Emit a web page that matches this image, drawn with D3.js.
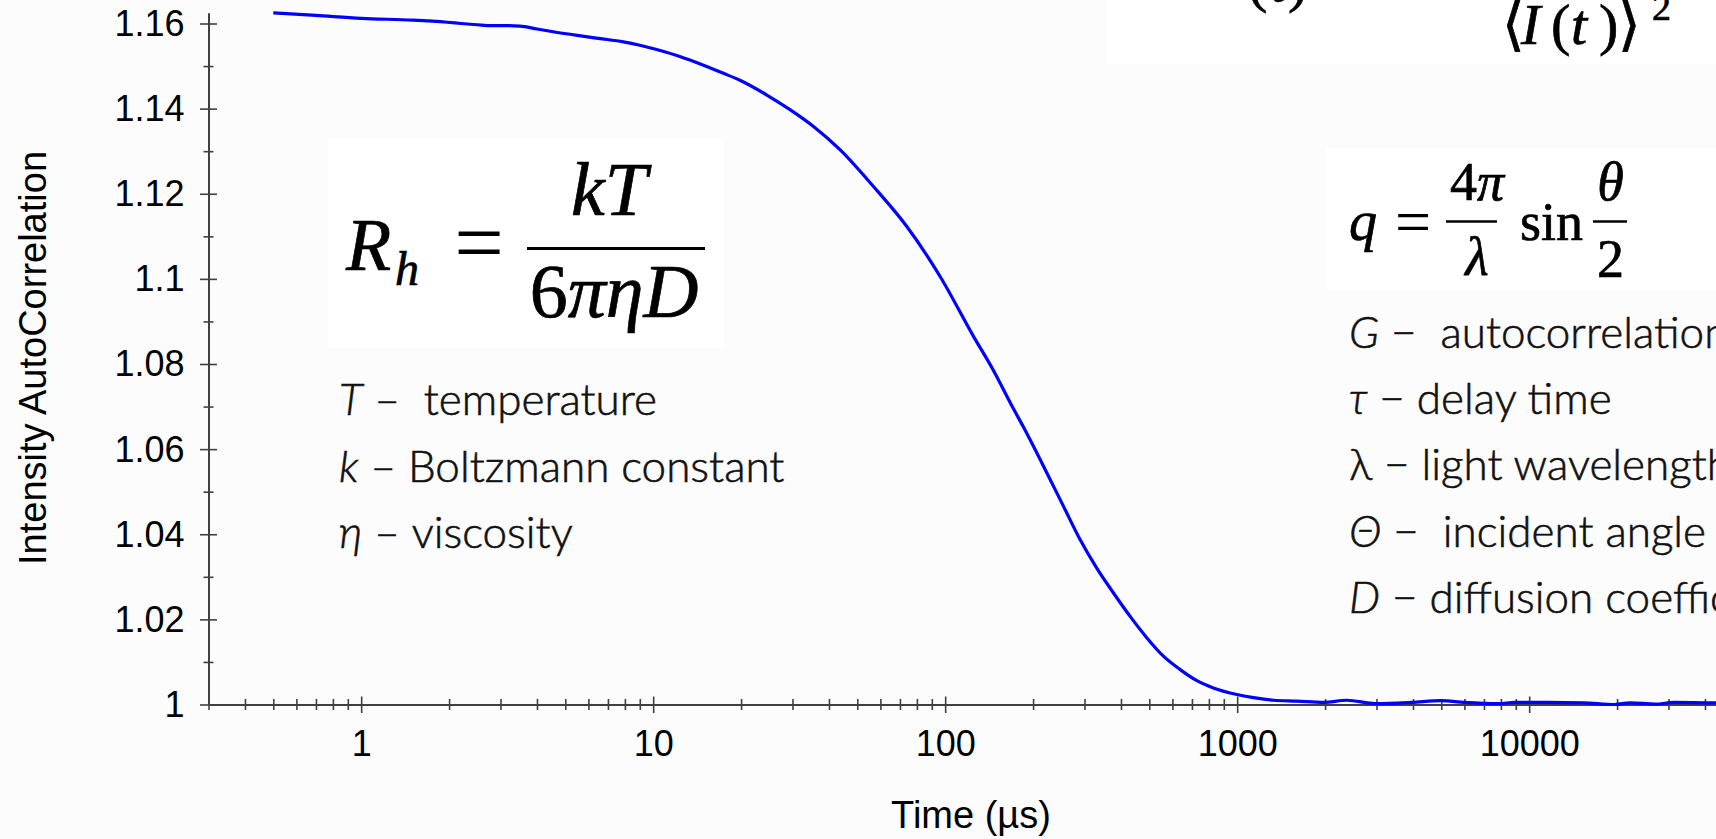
<!DOCTYPE html>
<html>
<head>
<meta charset="utf-8">
<script src="https://cdn.jsdelivr.net/npm/d3@7"></script>
<style>
  body { margin: 0; background: #fcfcfc; }
  svg { display: block; }
  .axis path, .axis line { stroke: #404040; }
  .axis text { font-family: 'Liberation Sans', Arial, sans-serif; font-size: 36px; fill: #000; }
  .title { font-family: 'Liberation Sans', Arial, sans-serif; font-size: 38px; fill: #000; }
  .note { font-family: Lato, 'Open Sans', sans-serif; font-size: 44px; font-weight: 300; fill: #111; stroke: #111; stroke-width: 0.6px; white-space: pre; }
  .math { font-family: 'Liberation Serif', 'DejaVu Serif', serif; fill: #000; stroke: #000; stroke-width: 0.7px; }
</style>
</head>
<body>
<div id="chart"></div>
<script>
// delay time (µs) and intensity autocorrelation
const timeUs = [0.5, 0.7, 1.0, 1.5, 1.97, 2.2, 2.5, 2.8, 3.1, 3.5, 4.0, 4.6, 5.5, 6.5, 7.9, 9.0,
    10.5, 12.4, 14.5, 17.4, 19.9, 24.5, 29.5, 35.4, 43.7, 56.8, 73.9, 96.2, 125, 146, 171, 185,
    223, 254, 290, 330, 377, 430, 490, 560, 638, 728, 829, 989, 1137, 1331, 1600, 1976, 2377,
    2970, 3965, 4980, 5985, 7850, 8930, 11530, 15320, 19550, 22180, 27100, 31260, 42640, 50000];
const autocorr = [1.1625, 1.1619, 1.1612, 1.1608, 1.1603, 1.16, 1.1597, 1.1595, 1.1595, 1.1594,
    1.1587, 1.158, 1.1572, 1.1565, 1.1557, 1.1549, 1.1537, 1.1522, 1.1505, 1.1483, 1.1466, 1.1432,
    1.1397, 1.1358, 1.1303, 1.1217, 1.1123, 1.1005, 1.0865, 1.0786, 1.0696, 1.0653, 1.0544, 1.0466,
    1.0387, 1.0321, 1.0262, 1.0207, 1.0157, 1.0113, 1.0082, 1.0056, 1.0039, 1.0024, 1.0016, 1.001,
    1.0008, 1.0005, 1.001, 1.0002, 1.0005, 1.0009, 1.0005, 1.0002, 1.0005, 1.0005, 1.0004, 1.0,
    1.0004, 1.0001, 1.0005, 1.0004, 1.0004];

const xMajorTicks = [1, 10, 100, 1000, 10000, 100000];
const xTickLabels = ['1', '10', '100', '1000', '10000', '100000'];
const yMajorTicks = [1, 1.02, 1.04, 1.06, 1.08, 1.1, 1.12, 1.14, 1.16];
const yTickLabels = ['1', '1.02', '1.04', '1.06', '1.08', '1.1', '1.12', '1.14', '1.16'];
const yMinorTicks = [1.01, 1.03, 1.05, 1.07, 1.09, 1.11, 1.13, 1.15];

const leftNotes = [
    { sym: 'T', italic: true, text: ' –  temperature' },
    { sym: 'k', italic: true, text: ' – Boltzmann constant' },
    { sym: 'η', italic: true, text: ' – viscosity' },
];
const rightNotes = [
    { sym: 'G', italic: true, text: ' −  autocorrelation' },
    { sym: 'τ', italic: true, text: ' − delay time' },
    { sym: 'λ', italic: false, text: ' − light wavelength' },
    { sym: 'Θ', italic: true, text: ' −  incident angle' },
    { sym: 'D', italic: true, text: ' − diffusion coefficient' },
];

const width = 1716;
const height = 839;
const x0 = 208.5;
const decade = 292;
const yBase = 704.5;
const yStep = 85.125; // px per 0.02

const svg = d3.select('#chart')
    .append('svg')
    .attr('width', width)
    .attr('height', height);

const x = d3.scaleLog()
    .domain([0.3, 100000])
    .range([x0, x0 + decade * Math.log10(100000 / 0.3)]);

const y = d3.scaleLinear()
    .domain([1, 1.1625])
    .range([yBase, yBase - (0.1625 / 0.02) * yStep]);

// minor log ticks 2..9 per decade
const xMinorTicks = [];
[0.1, 1, 10, 100, 1000, 10000].forEach((p) => {
    for (let m = 2; m <= 9; m++) {
        if (p * m >= 0.3) xMinorTicks.push(p * m);
    }
});

// formula boxes (slightly lighter than the page)
svg.append('rect').attr('x', 328).attr('y', 138).attr('width', 396).attr('height', 210).attr('fill', '#fff');
svg.append('rect').attr('x', 1326).attr('y', 148).attr('width', 390).attr('height', 142).attr('fill', '#fff');
svg.append('rect').attr('x', 1106).attr('y', 0).attr('width', 610).attr('height', 64).attr('fill', '#fff');

// x axis
const xAxis = svg.append('g')
    .attr('class', 'axis')
    .attr('transform', `translate(0,${yBase})`)
    .call(d3.axisBottom(x)
        .tickValues(xMajorTicks.concat(xMinorTicks))
        .tickSize(0)
        .tickSizeOuter(0)
        .tickFormat((d) => {
            const i = xMajorTicks.indexOf(d);
            return i >= 0 ? xTickLabels[i] : '';
        }));
xAxis.select('.domain').attr('stroke-width', 2);
xAxis.selectAll('.tick line')
    .attr('stroke-width', 1.6)
    .attr('y1', (d) => (xMajorTicks.includes(d) ? -8 : -5.5))
    .attr('y2', (d) => (xMajorTicks.includes(d) ? 8.5 : 5.5));
xAxis.selectAll('.tick text').attr('dy', null).attr('y', 51);

// y axis
const yAxis = svg.append('g')
    .attr('class', 'axis')
    .attr('transform', `translate(${x0},0)`)
    .call(d3.axisLeft(y)
        .tickValues(yMajorTicks.concat(yMinorTicks))
        .tickSize(0)
        .tickSizeOuter(0)
        .tickFormat((d) => {
            const i = yMajorTicks.indexOf(d);
            return i >= 0 ? yTickLabels[i] : '';
        }));
yAxis.select('.domain').attr('stroke-width', 2);
yAxis.selectAll('.tick line')
    .attr('stroke-width', 1.6)
    .attr('x1', (d) => (yMajorTicks.includes(d) ? -8.5 : -5))
    .attr('x2', (d) => (yMajorTicks.includes(d) ? 8.5 : 5));
yAxis.selectAll('.tick text').attr('x', -24).attr('dy', '0.33em');

// axis titles
svg.append('text')
    .attr('class', 'title')
    .attr('x', 971)
    .attr('y', 828)
    .attr('text-anchor', 'middle')
    .text('Time (µs)');

svg.append('text')
    .attr('class', 'title')
    .attr('transform', 'translate(46,358) rotate(-90)')
    .attr('text-anchor', 'middle')
    .text('Intensity AutoCorrelation');

// trace
const lineData = timeUs.map((t, i) => [t, autocorr[i]]);
svg.append('path')
    .datum(lineData)
    .attr('fill', 'none')
    .attr('stroke', '#0000ff')
    .attr('stroke-width', 3.2)
    .attr('stroke-linejoin', 'round')
    .attr('d', d3.line()
        .x((d) => x(d[0]))
        .y((d) => y(d[1]))
        .curve(d3.curveMonotoneX));

// Stokes-Einstein formula
function mathText(px, py, size, parts, anchor) {
    const t = svg.append('text')
        .attr('class', 'math')
        .attr('x', px)
        .attr('y', py)
        .attr('font-size', size)
        .attr('text-anchor', anchor || 'start');
    parts.forEach((p) => {
        t.append('tspan')
            .attr('font-style', p[1] ? 'italic' : 'normal')
            .text(p[0]);
    });
    return t;
}

mathText(346, 270, 74, [['R', true]]);
mathText(395, 285, 48, [['h', true]]);
mathText(479, 272, 88, [['=', false]], 'middle').style('stroke-width', 0);
svg.append('line')
    .attr('x1', 527).attr('x2', 705)
    .attr('y1', 248.5).attr('y2', 248.5)
    .attr('stroke', '#000').attr('stroke-width', 3);
mathText(609, 215, 76, [['kT', true]], 'middle');
mathText(614, 317, 76, [['6', false], ['πηD', true]], 'middle');

// scattering vector formula
mathText(1349, 240, 56, [['q', true]]);
mathText(1413, 243, 64, [['=', false]], 'middle').style('stroke-width', 0);
svg.append('line')
    .attr('x1', 1446).attr('x2', 1497)
    .attr('y1', 221.5).attr('y2', 221.5)
    .attr('stroke', '#000').attr('stroke-width', 2.5);
mathText(1477, 200, 54, [['4', false], ['π', true]], 'middle');
mathText(1477, 275, 54, [['λ', true]], 'middle');
mathText(1520, 240, 54, [['sin', false]]);
svg.append('line')
    .attr('x1', 1593).attr('x2', 1627)
    .attr('y1', 221.5).attr('y2', 221.5)
    .attr('stroke', '#000').attr('stroke-width', 2.5);
mathText(1610.5, 200, 54, [['θ', true]], 'middle');
mathText(1610.5, 277, 54, [['2', false]], 'middle');

// autocorrelation formula (cut by the top edge)
mathText(1248, 1, 58, [['(', false], ['τ', true], [')', false]]);
const denom = svg.append('text')
    .attr('class', 'math')
    .attr('y', 44)
    .attr('font-size', 58);
[['⟨', false, 1502], ['I', true, 1521], ['(', false, 1551], ['t', true, 1571], [')', false, 1599], ['⟩', false, 1618]]
    .forEach((p) => {
        denom.append('tspan')
            .attr('x', p[2])
            .attr('font-style', p[1] ? 'italic' : 'normal')
            .text(p[0]);
    });
mathText(1652, 20, 38, [['2', false]]);

// symbol legends
function notes(list, px, py0, step) {
    list.forEach((n, i) => {
        const t = svg.append('text')
            .attr('class', 'note')
            .attr('x', px)
            .attr('y', py0 + i * step);
        t.append('tspan').attr('font-style', n.italic ? 'italic' : 'normal').text(n.sym);
        t.append('tspan').text(n.text);
    });
}
notes(leftNotes, 339, 415, 66.5);
notes(rightNotes, 1349, 348, 66.2);
</script>
</body>
</html>
